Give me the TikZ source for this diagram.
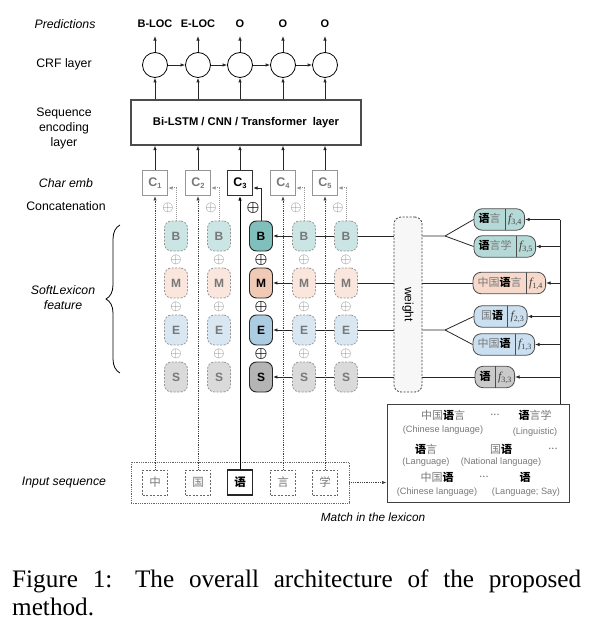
\documentclass[tikz,border=0pt]{standalone}
\usepackage{fontspec}
\setmainfont{Liberation Sans}
\newfontfamily\cjk{Noto Sans CJK SC}
\newfontfamily\serif{Liberation Serif}
\usetikzlibrary{arrows.meta,decorations.pathreplacing,calc,fit}
\pgfdeclarelayer{bg}
\pgfsetlayers{bg,main}
\definecolor{tealS}{RGB}{128,192,188}
\definecolor{tealF}{RGB}{202,229,228}
\definecolor{peachS}{RGB}{241,202,182}
\definecolor{peachF}{RGB}{250,230,220}
\definecolor{blueS}{RGB}{172,204,226}
\definecolor{blueF}{RGB}{216,231,242}
\definecolor{grayS}{RGB}{180,180,180}
\definecolor{grayF}{RGB}{218,218,218}
\definecolor{txtgray}{RGB}{120,120,120}
\definecolor{lngray}{RGB}{150,150,150}
\definecolor{pteal}{RGB}{180,217,215}
\definecolor{ppeach}{RGB}{246,217,203}
\definecolor{pblue}{RGB}{202,223,239}
\definecolor{pgray}{RGB}{202,202,202}
\newcommand\fv[1]{{\color{black!75}\serif\itshape f\textsubscript{\upshape #1}}}
\newcommand\yu{{\bfseries\color{black}语}}
\begin{document}
\begin{tikzpicture}[x=1pt,y=-1pt,
  >={Latex[length=4.5pt,width=3.5pt]},
  font=\fontsize{12}{14}\selectfont,
  lbl/.style={inner sep=1pt, font=\fontsize{12.3}{15}\selectfont, align=center},
  cbF/.style={draw=lngray, line width=1pt, minimum width=25pt, minimum height=25pt, inner sep=0pt, text=txtgray, font=\fontsize{12.5}{14}\selectfont\bfseries},
  cbS/.style={draw=black!80, line width=1.1pt, minimum width=25pt, minimum height=25pt, inner sep=0pt, text=black, font=\fontsize{12.5}{14}\selectfont\bfseries},
  fbF/.style={draw=lngray, dash pattern=on 2pt off 1.5pt, line width=0.8pt, rounded corners=7pt, minimum width=23pt, minimum height=30pt, inner sep=0pt, text=txtgray, font=\fontsize{12}{14}\selectfont\bfseries},
  fbS/.style={draw=black!85, line width=0.9pt, rounded corners=7pt, minimum width=23pt, minimum height=30pt, inner sep=0pt, text=black, font=\fontsize{12}{14}\selectfont\bfseries},
  ibF/.style={draw=black!60, dash pattern=on 2pt off 1.5pt, line width=0.8pt, minimum width=25pt, minimum height=25pt, inner sep=0pt, text=txtgray, font=\cjk\fontsize{11.5}{13}\selectfont},
  ibS/.style={draw=black!85, line width=1.2pt, minimum width=25pt, minimum height=25pt, inner sep=0pt, text=black, font=\cjk\bfseries\fontsize{11.5}{13}\selectfont},
  opF/.style={text=txtgray, inner sep=0pt, font=\fontsize{13.5}{13}\selectfont},
  opS/.style={text=black, inner sep=0pt, font=\fontsize{13.5}{13}\selectfont\boldmath},
  inF/.style={black!75, densely dotted, line width=0.8pt},
  inS/.style={black, line width=1pt},
  upF/.style={lngray, densely dotted, line width=1pt},
  upS/.style={black!85, line width=0.9pt},
  pw/.style={inner xsep=4.5pt, inner ysep=0pt, minimum height=21pt, text height=8.5pt, text depth=2pt, text=txtgray, font=\cjk\fontsize{11}{13}\selectfont},
  pf/.style={inner xsep=2.5pt, inner ysep=0pt, minimum height=21pt, text height=8.5pt, text depth=2pt, font=\fontsize{12}{13}\selectfont},
  pill/.style={draw=black!70, line width=0.8pt, rounded corners=8pt, inner sep=0pt},
  lx/.style={inner sep=0pt, text=txtgray, font=\cjk\fontsize{11}{13}\selectfont},
  lxs/.style={inner sep=0pt, text=txtgray, font=\fontsize{9.2}{11}\selectfont},
  conn/.style={black!85, line width=0.8pt}
]
\useasboundingbox (0,0) rectangle (604,636);

% left labels
\node[lbl, font=\fontsize{12.3}{15}\selectfont\itshape] (lpred) at (65,24) {Predictions};
\node[lbl] (lcrf) at (64,64) {CRF layer};
\node[lbl] (lseq) at (64,128) {Sequence\\encoding\\layer};
\node[lbl, font=\fontsize{12.3}{15}\selectfont\itshape] (lchar) at (66,183) {Char emb};
\node[lbl] (lcat) at (66,206) {Concatenation};
\node[lbl, font=\fontsize{12.3}{15}\selectfont\itshape] (lsoft) at (63,298) {SoftLexicon\\feature};
\node[lbl, font=\fontsize{12.3}{15}\selectfont\itshape] (linp) at (64,483) {Input sequence};
\coordinate (brb) at (120,373);
\coordinate (brt) at (120,225);
\draw[line width=0.8pt, decorate, decoration={brace, amplitude=14pt}] (brb) -- (brt);

% encoder
\node[draw=black!70, line width=1.1pt, minimum width=230pt, minimum height=45pt, font=\fontsize{11.2}{13}\selectfont\bfseries] (enc) at (246,122.5) {Bi-LSTM / CNN / Transformer\ \ layer};

% input outer box
\node[draw=black!60, densely dotted, line width=0.8pt, minimum width=218pt, minimum height=41pt] (inbox) at (240,482.5) {};

% columns
\foreach \i/\x/\s/\ch/\pr in {1/155/F/中/B-LOC,2/198/F/国/E-LOC,3/240/S/语/O,4/283/F/言/O,5/325/F/学/O}{
  \node[circle, draw, line width=0.8pt, minimum size=25pt, inner sep=0pt] (R\i) at (\x,65) {};
  \node[inner sep=0pt, font=\fontsize{11}{13}\selectfont\bfseries] (P\i) at (\x,24) {\pr};
  \node[cb\s] (C\i) at (\x,183) {C\raisebox{-0.25ex}{\fontsize{7.5}{8}\selectfont\i}};
  \node[fb\s, fill=teal\s] (B\i) at (\x+21,236) {B};
  \node[fb\s, fill=peach\s] (M\i) at (\x+21,283) {M};
  \node[fb\s, fill=blue\s] (E\i) at (\x+21,330) {E};
  \node[fb\s, fill=gray\s] (S\i) at (\x+21,377) {S};
  \node[op\s] (o\i a) at (\x+13,208) {$\oplus$};
  \node[op\s] (o\i b) at (\x+21,259.5) {$\oplus$};
  \node[op\s] (o\i c) at (\x+21,306.5) {$\oplus$};
  \node[op\s] (o\i d) at (\x+21,353.5) {$\oplus$};
  \node[ib\s] (I\i) at (\x,482.5) {\ch};
  \draw[in\s,->] (I\i.north) -- (C\i.south);
  \draw[up\s,->] (B\i.north) |- ($(C\i.east)+(0,5)$);
  \draw[conn,->] (C\i.north) -- (C\i.north |- enc.south);
  \draw[conn,->] (R\i.south |- enc.north) -- (R\i.south);
  \draw[conn,->, shorten >=8pt] (R\i.north) -- (P\i.south);
}
\foreach \a/\b in {1/2,2/3,3/4,4/5}{
  \draw[conn,->] (R\a.east) -- (R\b.west);
}

% weight
\node[draw=black!75, dash pattern=on 2pt off 1.5pt, line width=0.8pt, rounded corners=7pt, fill=black!3, minimum width=28pt, minimum height=175pt, inner sep=0pt] (weight) at (408,304.5) {};
\node[rotate=-90, inner sep=0pt, font=\fontsize{12}{14}\selectfont] (wlab) at (weight.center) {weight};

\begin{pgfonlayer}{bg}
  \draw[conn,->] (weight.west |- B3.east) -- (B3.east);
  \draw[conn,->] (weight.west |- M3.east) -- (M3.east);
  \draw[conn,->] (weight.west |- E3.east) -- (E3.east);
  \draw[conn,->] (weight.west |- S3.east) -- (S3.east);
\end{pgfonlayer}

% pills
\node[pw, anchor=west] (w1) at (474,219.5) {\yu 言};
\node[pf, anchor=west] (f1) at (w1.east) {\fv{3,4}};
\node[pw, anchor=west] (w2) at (474,246.5) {\yu 言学};
\node[pf, anchor=west] (f2) at (w2.east) {\fv{3,5}};
\node[pw, anchor=west] (w3) at (473,283) {中国\yu 言};
\node[pf, anchor=west] (f3) at (w3.east) {\fv{1,4}};
\node[pw, anchor=west] (w4) at (474,316.5) {\ 国\yu\ };
\node[pf, anchor=west] (f4) at (w4.east) {\fv{2,3}};
\node[pw, anchor=west] (w5) at (473,344.5) {中国\yu};
\node[pf, anchor=west] (f5) at (w5.east) {\fv{1,3}};
\node[pw, anchor=west] (w6) at (475,377) {\yu};
\node[pf, anchor=west] (f6) at (w6.east) {\fv{3,3}};
\begin{pgfonlayer}{bg}
  \node[pill, fill=pteal, fit=(w1)(f1)] (p1) {};
  \node[pill, fill=pteal, fit=(w2)(f2)] (p2) {};
  \node[pill, fill=ppeach, fit=(w3)(f3)] (p3) {};
  \node[pill, fill=pblue, fit=(w4)(f4)] (p4) {};
  \node[pill, fill=pblue, fit=(w5)(f5)] (p5) {};
  \node[pill, fill=pgray, fit=(w6)(f6)] (p6) {};
\end{pgfonlayer}
\foreach \k in {1,...,6}{
  \draw[black!70, line width=0.8pt] (w\k.north east) -- (w\k.south east);
}

% forks
\coordinate (fkB) at (445,236);
\coordinate (fkE) at (445,330);
\draw[conn] (weight.east |- fkB) -- (fkB) -- (p1.west);
\draw[conn] (fkB) -- (p2.west);
\draw[conn] (weight.east |- M3.east) -- (p3.west);
\draw[conn] (weight.east |- fkE) -- (fkE) -- (p4.west);
\draw[conn] (fkE) -- (p5.west);
\draw[conn] (weight.east |- S3.east) -- (p6.west);

% lexicon
\node[draw=black!75, line width=0.9pt, minimum width=182pt, minimum height=98pt, inner sep=0pt] (lex) at (478,453) {};
\coordinate (vt) at (560,219.5);
\draw[conn] (vt) -- (vt |- lex.north);
\foreach \k in {1,...,6}{
  \draw[conn,->] (vt |- p\k.east) -- (p\k.east);
}
\draw[black!75, densely dotted, line width=0.8pt, ->] (inbox.east) -- (lex.west |- inbox.east);
\node[inner sep=0pt, font=\fontsize{11.8}{14}\selectfont\itshape] (match) at (373,517) {Match in the lexicon};

\node[lx] (x11) at (443,415) {中国\yu 言};
\node[lx] (x12) at (495,415) {...};
\node[lx] (x13) at (535,415) {\yu 言学};
\node[lxs] (y11) at (443,430) {(Chinese language)};
\node[lxs] (y13) at (535,432) {(Linguistic)};
\node[lx] (x21) at (426,449) {\yu 言};
\node[lx] (x22) at (501,449) {国\yu};
\node[lx] (x23) at (553,449) {...};
\node[lxs] (y21) at (426,462) {(Language)};
\node[lxs] (y22) at (501,462) {(National language)};
\node[lx] (x31) at (437,477) {中国\yu};
\node[lx] (x32) at (484,477) {...};
\node[lx] (x33) at (525,477) {\yu};
\node[lxs] (y31) at (437,492) {(Chinese language)};
\node[lxs] (y33) at (526,492) {(Language; Say)};

% caption
\node[anchor=north west, inner sep=0pt, text width=569pt, align=justify, font=\serif\fontsize{25.2}{28}\selectfont\frenchspacing] (cap) at (12,570) {Figure~1:\hspace{0.9em}The overall architecture of the proposed\linebreak method.};
\end{tikzpicture}
\end{document}
